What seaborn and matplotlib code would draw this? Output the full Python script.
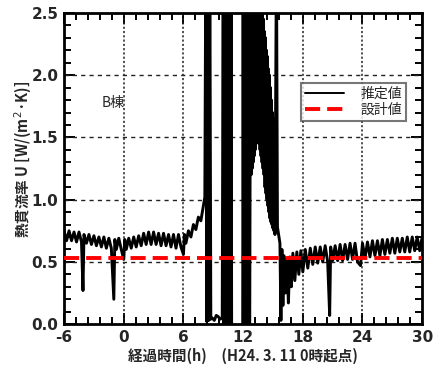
import matplotlib
matplotlib.use("Agg")
import matplotlib.pyplot as plt
import seaborn as sns
import pandas as pd
from matplotlib.ticker import MultipleLocator

sns.set_theme(style="white")
plt.rcParams['font.family'] = ['Noto Sans CJK JP', 'DejaVu Sans']
plt.rcParams['axes.unicode_minus'] = False

# ---- data ----
hours = [
    -6.0, -5.75, -5.5, -5.25, -5.0, -4.75, -4.5, -4.25, -4.1, -4.0, -3.75, -3.5, -3.25, -3.0,
    -2.75, -2.5, -2.25, -2.0, -1.75, -1.5, -1.25, -1.0, -0.9, -0.75, -0.5, -0.25, 0.0, 0.1,
    0.25, 0.5, 0.75, 1.0, 1.25, 1.5, 1.75, 2.0, 2.25, 2.5, 2.75, 3.0, 3.25, 3.5, 3.75, 4.0,
    4.25, 4.5, 4.75, 5.0, 5.25, 5.5, 5.75, 6.0, 6.1, 6.25, 6.5, 6.75, 7.0, 7.25, 7.5, 7.75,
    8.0, 8.15,
    8.25, 8.35, 8.45, 8.55, 8.65, 8.75, 8.9, 9.1, 9.3, 9.5, 9.7, 9.9,
    10.0, 10.05, 10.15, 10.2, 10.3, 10.35, 10.6, 10.65, 10.75, 10.8, 10.85, 11.95,
    12.0, 12.05, 12.15, 12.2, 12.3, 12.35, 12.45, 12.5, 12.6, 12.65, 12.75,
    12.8, 12.85, 12.9, 12.95, 13.0, 13.05, 13.1, 13.15, 13.2, 13.25, 13.3, 13.35, 13.4,
    13.45, 13.5, 13.55, 13.6, 13.65, 13.7, 13.75, 13.8, 13.85, 13.9, 13.95,
    14.0, 14.05, 14.1, 14.15, 14.2, 14.25, 14.3, 14.35, 14.4, 14.45, 14.5, 14.55, 14.6,
    14.65, 14.7, 14.75, 14.8, 14.85, 14.9, 14.95, 15.0, 15.05, 15.1, 15.15, 15.2, 15.25,
    15.35, 15.45,
    15.7, 15.8, 15.9, 16.0, 16.1, 16.25, 16.4, 16.55, 16.7, 16.85, 17.0, 17.2, 17.4, 17.6,
    17.8, 18.0, 18.25, 18.5, 18.75, 19.0, 19.25, 19.5, 19.75, 20.0, 20.25, 20.5, 20.7, 20.8,
    21.0, 21.25, 21.5, 21.75, 22.0, 22.25, 22.5, 22.75, 23.0, 23.25, 23.5, 23.8, 24.0, 24.25,
    24.5, 24.75, 25.0, 25.25, 25.5, 25.75, 26.0, 26.25, 26.5, 26.75, 27.0, 27.25, 27.5, 27.75,
    28.0, 28.25, 28.5, 28.75, 29.0, 29.25, 29.5, 29.75, 30.0,
]
u_estimated = [
    0.75, 0.67, 0.75, 0.67, 0.74, 0.66, 0.74, 0.66, 0.27, 0.72, 0.65, 0.72, 0.64, 0.71,
    0.63, 0.70, 0.62, 0.70, 0.61, 0.69, 0.61, 0.20, 0.68, 0.60, 0.69, 0.60, 0.52, 0.68,
    0.60, 0.69, 0.61, 0.70, 0.62, 0.71, 0.63, 0.73, 0.64, 0.74, 0.64, 0.74, 0.64, 0.73, 0.63, 0.73,
    0.63, 0.72, 0.62, 0.72, 0.61, 0.72, 0.62, 0.56, 0.72, 0.65, 0.75, 0.70, 0.80, 0.76, 0.86, 0.83,
    0.95, 1.02,
    3.0, 0.02, 3.0, 0.03, 3.0, 0.04, 0.05, 0.03, 0.07, 0.06, 0.04, 0.05,
    3.0, -0.5, 3.0, -0.5, 3.0, -0.5, -0.5, 3.0, -0.5, 3.0, -0.5, -0.5,
    3.0, -0.5, 3.0, -0.5, 3.0, -0.5, 3.0, -0.5, 3.0, -0.5, 3.0,
    1.2, 3.0, 1.25, 3.0, 1.3, 3.0, 1.35, 3.0, 1.4, 3.0, 1.45, 3.0, 1.5,
    3.0, 1.5, 2.9, 1.45, 2.8, 1.4, 2.7, 1.35, 2.6, 1.3, 2.5,
    1.25, 2.45, 1.2, 2.35, 1.1, 2.3, 1.05, 2.2, 1.0, 2.15, 0.95, 2.05, 0.9,
    2.0, 0.85, 1.9, 0.82, 1.8, 0.8, 1.7, 0.77, 1.65, 0.75, 1.55, 0.72, 1.5,
    3.0, 0.78,
    0.65, 0.03, 0.60, 0.15, 0.55, 0.25, 0.52, 0.17, 0.54, 0.30, 0.57, 0.35, 0.58, 0.40,
    0.59, 0.42, 0.60, 0.45, 0.61, 0.48, 0.62, 0.49, 0.62, 0.50, 0.63, 0.50, 0.07, 0.62,
    0.51, 0.63, 0.51, 0.64, 0.51, 0.64, 0.52, 0.65, 0.52, 0.65, 0.50, 0.47, 0.65, 0.53,
    0.66, 0.54, 0.67, 0.55, 0.67, 0.55, 0.68, 0.56, 0.68, 0.57, 0.69, 0.57, 0.69, 0.58,
    0.69, 0.58, 0.70, 0.58, 0.70, 0.59, 0.70, 0.59, 0.70,
]
design_hours = [-6.0, 30.0]
design_u = [0.53, 0.53]

x_ticks = [-6, 0, 6, 12, 18, 24, 30]
y_ticks = [0.0, 0.5, 1.0, 1.5, 2.0, 2.5]
y_ticklabels = ["0.0", "0.5", "1.0", "1.5", "2.0", "2.5"]

series_labels = ["推定値", "設計値"]
building_label = "B棟"
x_label = "経過時間(h)　(H24. 3. 11 0時起点)"
y_label = "熱貫流率 U [W/(m$^2$·K)]"

df_est = pd.DataFrame({"h": hours, "u": u_estimated})
df_des = pd.DataFrame({"h": design_hours, "u": design_u})

fig = plt.figure(figsize=(4.33, 3.8), dpi=100)
ax = fig.add_axes([0.148, 0.147, 0.827, 0.819])

sns.lineplot(data=df_est, x="h", y="u", ax=ax, color="black", linewidth=2.1,
             sort=False, estimator=None, label=series_labels[0])
sns.lineplot(data=df_des, x="h", y="u", ax=ax, color="#ff0000", linewidth=2.8,
             sort=False, estimator=None, label=series_labels[1])
ax.lines[1].set_linestyle((0, (3.9, 1.8)))
ax.lines[1].set_zorder(5)

ax.set_xlim(-6, 30)
ax.set_ylim(0, 2.5)

# grid lines
for yv in [0.5, 1.0, 1.5, 2.0]:
    ax.axhline(yv, color="#222222", lw=1.0, ls=(0, (3, 3)), zorder=1)
for xv in [0, 6, 12, 18, 24]:
    ax.axvline(xv, color="#222222", lw=1.1, ls=(0, (1.4, 1.4)), zorder=1)

ax.set_xticks(x_ticks)
ax.set_yticks(y_ticks)
ax.set_yticklabels(y_ticklabels)
ax.xaxis.set_minor_locator(MultipleLocator(1.2))
ax.yaxis.set_minor_locator(MultipleLocator(0.1))
ax.tick_params(which="both", direction="in", top=True, right=True, bottom=True, left=True,
               color="black", width=1.4)
ax.tick_params(which="major", length=8, labelsize=11, pad=4)
ax.tick_params(which="minor", length=5)
for lab in ax.get_xticklabels() + ax.get_yticklabels():
    lab.set_fontweight("bold")
    lab.set_family("DejaVu Sans")

for s in ax.spines.values():
    s.set_visible(True)
    s.set_color("black")
    s.set_linewidth(2)

ax.set_xlabel(x_label, fontsize=10.5, fontweight="bold", labelpad=2)
ax.set_ylabel(y_label, fontsize=10.5, fontweight="bold")
ax.yaxis.set_label_coords(-0.085, 0.53)

ax.text(0.137, 0.71, building_label, transform=ax.transAxes, fontsize=10,
        ha="center", va="center")

leg = ax.legend(loc="upper right", bbox_to_anchor=(0.955, 0.775), borderaxespad=0,
                fancybox=False, frameon=True, fontsize=10, handlelength=2.8,
                handletextpad=1.2, borderpad=0.3, labelspacing=0.1)
leg.get_frame().set_edgecolor("#555555")
leg.get_frame().set_linewidth(1.5)
leg.set_zorder(10)
for line in leg.get_lines():
    line.set_linewidth(1.4 if line.get_color() == "black" else 2.8)

fig.savefig("out.png", dpi=100, facecolor="white")
